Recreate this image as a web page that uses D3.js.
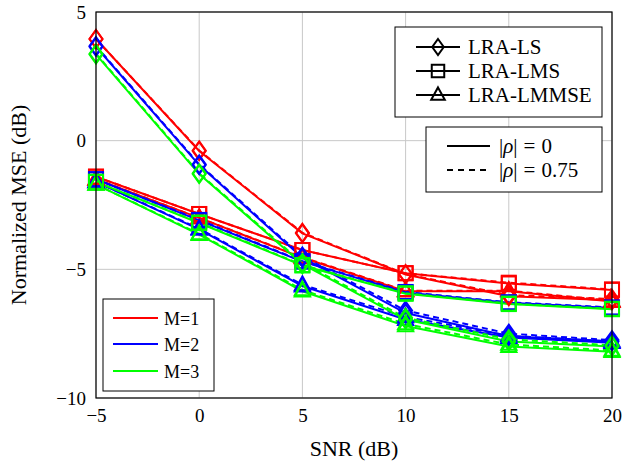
<!DOCTYPE html>
<html><head><meta charset="utf-8">
<script src="https://cdn.jsdelivr.net/npm/d3@7"></script>
<style>body{margin:0;background:#fff}svg{display:block}text{font-family:"Liberation Serif","Times New Roman","DejaVu Serif",serif !important}</style>
</head><body><svg id="c" width="623" height="464"></svg>
<script>
const snr = [-5, 0, 5, 10, 15, 20];
const xTicks = [-5, 0, 5, 10, 15, 20];
const yTicks = [-10, -5, 0, 5];
const mLabels = ["M=1", "M=2", "M=3"];
const mColors = ["#ff0000", "#0000ff", "#00ff00"];
const methodLabels = ["LRA-LS", "LRA-LMS", "LRA-LMMSE"];
const rhoLabels = ["0", "0.75"];

// LRA-LS, |rho|=0
const lsRho0_M1 = [3.95, -0.40, -3.60, -5.20, -6.05, -6.20];
const lsRho0_M2 = [3.65, -0.95, -4.55, -6.70, -7.60, -7.80];
const lsRho0_M3 = [3.35, -1.30, -4.80, -6.95, -7.80, -8.00];
// LRA-LS, |rho|=0.75
const lsRho75_M1 = [3.95, -0.38, -3.58, -5.18, -6.00, -6.15];
const lsRho75_M2 = [3.68, -0.92, -4.50, -6.60, -7.50, -7.75];
const lsRho75_M3 = [3.38, -1.27, -4.75, -6.88, -7.72, -7.95];
// LRA-LMS, |rho|=0
const lmsRho0_M1 = [-1.40, -2.85, -4.25, -5.15, -5.55, -5.80];
const lmsRho0_M2 = [-1.50, -3.10, -4.70, -5.90, -6.30, -6.50];
const lmsRho0_M3 = [-1.60, -3.20, -4.85, -5.95, -6.35, -6.55];
// LRA-LMS, |rho|=0.75
const lmsRho75_M1 = [-1.40, -2.85, -4.25, -5.15, -5.52, -5.78];
const lmsRho75_M2 = [-1.50, -3.08, -4.68, -5.88, -6.28, -6.48];
const lmsRho75_M3 = [-1.60, -3.18, -4.83, -5.93, -6.33, -6.53];
// LRA-LMMSE, |rho|=0
const lmmseRho0_M1 = [-1.50, -3.00, -4.55, -5.85, -5.85, -6.25];
const lmmseRho0_M2 = [-1.60, -3.45, -5.65, -6.95, -7.65, -7.85];
const lmmseRho0_M3 = [-1.70, -3.65, -5.85, -7.20, -8.00, -8.20];
// LRA-LMMSE, |rho|=0.75
const lmmseRho75_M1 = [-1.50, -3.00, -4.53, -5.83, -5.83, -6.22];
const lmmseRho75_M2 = [-1.60, -3.42, -5.60, -6.85, -7.58, -7.80];
const lmmseRho75_M3 = [-1.70, -3.62, -5.80, -7.12, -7.92, -8.15];

const series = [
  {method: 0, rho: 0, m: 0, v: lsRho0_M1}, {method: 0, rho: 1, m: 0, v: lsRho75_M1},
  {method: 1, rho: 0, m: 0, v: lmsRho0_M1}, {method: 1, rho: 1, m: 0, v: lmsRho75_M1},
  {method: 2, rho: 0, m: 0, v: lmmseRho0_M1}, {method: 2, rho: 1, m: 0, v: lmmseRho75_M1},
  {method: 0, rho: 0, m: 1, v: lsRho0_M2}, {method: 0, rho: 1, m: 1, v: lsRho75_M2},
  {method: 1, rho: 0, m: 1, v: lmsRho0_M2}, {method: 1, rho: 1, m: 1, v: lmsRho75_M2},
  {method: 2, rho: 0, m: 1, v: lmmseRho0_M2}, {method: 2, rho: 1, m: 1, v: lmmseRho75_M2},
  {method: 0, rho: 0, m: 2, v: lsRho0_M3}, {method: 0, rho: 1, m: 2, v: lsRho75_M3},
  {method: 1, rho: 0, m: 2, v: lmsRho0_M3}, {method: 1, rho: 1, m: 2, v: lmsRho75_M3},
  {method: 2, rho: 0, m: 2, v: lmmseRho0_M3}, {method: 2, rho: 1, m: 2, v: lmmseRho75_M3}
];

const FONT = '"Liberation Serif", "Times New Roman", "DejaVu Serif", serif';
const svg = d3.select("#c");
const L = 96, R = 612, T = 12, B = 398;
const x = d3.scaleLinear().domain([-5, 20]).range([L, R]);
const y = d3.scaleLinear().domain([-10, 5]).range([B, T]);
const fmt = d => (d < 0 ? "\u2212" + Math.abs(d) : String(d));

// grid
const g = svg.append("g");
g.selectAll(".gx").data(xTicks).join("line")
  .attr("x1", d => x(d)).attr("x2", d => x(d)).attr("y1", T).attr("y2", B)
  .attr("stroke", "#c8c8c8").attr("stroke-width", 1);
g.selectAll(".gy").data(yTicks).join("line")
  .attr("y1", d => y(d)).attr("y2", d => y(d)).attr("x1", L).attr("x2", R)
  .attr("stroke", "#c8c8c8").attr("stroke-width", 1);

// axes
const xAxis = d3.axisBottom(x).tickValues(xTicks).tickFormat(fmt).tickSize(0).tickPadding(11);
const yAxis = d3.axisLeft(y).tickValues(yTicks).tickFormat(fmt).tickSize(0).tickPadding(10);
const ax = svg.append("g").attr("transform", `translate(0,${B})`).call(xAxis);
const ay = svg.append("g").attr("transform", `translate(${L},0)`).call(yAxis);
[ax, ay].forEach(a => {
  a.attr("font-family", FONT);
  a.select(".domain").remove();
  a.selectAll("text").attr("font-size", 19).attr("fill", "#000");
});

const line = d3.line().x((d, i) => x(snr[i])).y(d => y(d));
const plot = svg.append("g");

function marker(sel, type, size) {
  const s = size;
  if (type === 0) sel.append("path").attr("d", `M0,${-s}L${s * 0.72},0L0,${s}L${-s * 0.72},0Z`);
  else if (type === 1) sel.append("rect").attr("x", -s * 0.78).attr("y", -s * 0.78).attr("width", s * 1.56).attr("height", s * 1.56);
  else sel.append("path").attr("d", `M0,${-s * 0.95}L${s * 0.85},${s * 0.6}L${-s * 0.85},${s * 0.6}Z`);
}

series.forEach(s => {
  const c = mColors[s.m];
  plot.append("path").datum(s.v).attr("d", line)
    .attr("fill", "none").attr("stroke", c).attr("stroke-width", 2)
    .attr("stroke-dasharray", s.rho === 1 ? "6,4" : null);
});
series.forEach(s => {
  const c = mColors[s.m];
  s.v.forEach((v, i) => {
    const mg = plot.append("g").attr("transform", `translate(${x(snr[i])},${y(v)})`)
      .attr("fill", "none").attr("stroke", c).attr("stroke-width", 2);
    marker(mg, s.method, 9);
  });
});

// frame
svg.append("rect").attr("x", L).attr("y", T).attr("width", R - L).attr("height", B - T)
  .attr("fill", "none").attr("stroke", "#000").attr("stroke-width", 1.2);

// axis titles
svg.append("text").attr("x", (L + R) / 2).attr("y", 456).attr("text-anchor", "middle")
  .attr("font-family", FONT).attr("font-size", 22).text("SNR (dB)");
svg.append("text").attr("transform", `translate(26,${(T + B) / 2}) rotate(-90)`)
  .attr("font-family", FONT).attr("text-anchor", "middle").attr("font-size", 22).text("Normalized MSE (dB)");

// method legend
const lg1 = svg.append("g").attr("font-family", FONT);
lg1.append("rect").attr("x", 395).attr("y", 27).attr("width", 207).attr("height", 90)
  .attr("fill", "#fff").attr("stroke", "#000").attr("stroke-width", 1);
const rows1 = [47, 71, 95];
methodLabels.forEach((t, i) => {
  lg1.append("line").attr("x1", 416).attr("x2", 460).attr("y1", rows1[i]).attr("y2", rows1[i])
    .attr("stroke", "#000").attr("stroke-width", 2);
  const mg = lg1.append("g").attr("transform", `translate(438,${rows1[i]})`)
    .attr("fill", "none").attr("stroke", "#000").attr("stroke-width", 2);
  marker(mg, i, 8);
  lg1.append("text").attr("x", 468).attr("y", rows1[i] + 7).attr("font-size", 21).text(t);
});

// rho legend
const lg2 = svg.append("g").attr("font-family", FONT);
lg2.append("rect").attr("x", 426).attr("y", 127).attr("width", 176).attr("height", 65)
  .attr("fill", "#fff").attr("stroke", "#000").attr("stroke-width", 1);
const rows2 = [146, 170];
rhoLabels.forEach((t, i) => {
  lg2.append("line").attr("x1", 447).attr("x2", 490).attr("y1", rows2[i]).attr("y2", rows2[i])
    .attr("stroke", "#000").attr("stroke-width", 2).attr("stroke-dasharray", i === 1 ? "6,5" : null);
  const tx = lg2.append("text").attr("x", 499).attr("y", rows2[i] + 7).attr("font-size", 21);
  tx.append("tspan").text("|");
  tx.append("tspan").attr("font-style", "italic").text("\u03c1");
  tx.append("tspan").text("|");
  tx.append("tspan").attr("dx", 6).text("=");
  tx.append("tspan").attr("dx", 6).text(t);
});

// M legend
const lg3 = svg.append("g").attr("font-family", FONT);
lg3.append("rect").attr("x", 103).attr("y", 299).attr("width", 111).attr("height", 92)
  .attr("fill", "#fff").attr("stroke", "#000").attr("stroke-width", 1);
const rows3 = [318, 344, 371];
mLabels.forEach((t, i) => {
  lg3.append("line").attr("x1", 113).attr("x2", 158).attr("y1", rows3[i]).attr("y2", rows3[i])
    .attr("stroke", mColors[i]).attr("stroke-width", 2);
  lg3.append("text").attr("x", 164).attr("y", rows3[i] + 6.5).attr("font-size", 18).text(t);
});
</script></body></html>
